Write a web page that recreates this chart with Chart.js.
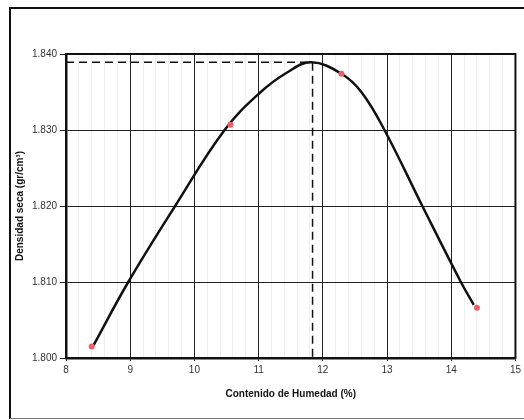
<!DOCTYPE html>
<html>
<head>
<meta charset="utf-8">
<script src="https://cdn.jsdelivr.net/npm/chart.js@4"></script>
<style>
html, body { margin: 0; padding: 0; background: #fff; }
#wrap { width: 524px; height: 420px; }
</style>
</head>
<body>
<div id="wrap"><canvas id="chart"></canvas></div>
<script>
// ensayo proctor: puntos medidos
const humedad = [8.40, 10.56, 12.29, 14.40];
const densidad = [1.8015, 1.8307, 1.8374, 1.8066];

// curva de compactacion
const curvaX = [8.43, 8.97, 9.70, 10.47, 11.02, 11.45, 11.82, 12.29, 12.60, 12.96, 13.55, 14.15, 14.35];
const curvaY = [1.8017, 1.8100, 1.8200, 1.8300, 1.8349, 1.8376, 1.8389, 1.8374, 1.8350, 1.8300, 1.8200, 1.8100, 1.8070];

// humedad optima y densidad maxima
const humedadOptima = 11.84;
const densidadMaxima = 1.8389;

const xMin = 8, xMax = 15;
const yMin = 1.800, yMax = 1.840;

const frame = {
    id: "frame",
    afterDraw(chart){
        const ctx = chart.ctx;
        const a = chart.chartArea;
        ctx.save();
        ctx.strokeStyle = "#111";
        ctx.lineWidth = 2;
        ctx.strokeRect(a.left, a.top, a.right - a.left, a.bottom - a.top);
        // marco exterior
        ctx.lineWidth = 2;
        ctx.beginPath();
        ctx.moveTo(524, 8);
        ctx.lineTo(10, 8);
        ctx.lineTo(10, 419);
        ctx.stroke();
        ctx.strokeStyle = "#777";
        ctx.lineWidth = 1;
        ctx.beginPath();
        ctx.moveTo(10, 418.5);
        ctx.lineTo(524, 418.5);
        ctx.stroke();
        ctx.restore();
    }
};

const ctx = document.getElementById("chart");
new Chart(ctx, {
    type: "scatter",
    data: {
        datasets: [
            {
                label: "Curva",
                data: curvaX.map((x, i) => ({x: x, y: curvaY[i]})),
                showLine: true,
                borderColor: "#111",
                borderWidth: 2.5,
                pointRadius: 0,
                tension: 0.4,
                order: 2
            },
            {
                label: "Optimo",
                data: [
                    {x: xMin, y: densidadMaxima},
                    {x: humedadOptima, y: densidadMaxima},
                    {x: humedadOptima, y: yMin}
                ],
                showLine: true,
                borderColor: "#111",
                borderWidth: 1.5,
                borderDash: [8, 5],
                pointRadius: 0,
                order: 3
            },
            {
                label: "Ensayo",
                data: humedad.map((x, i) => ({x: x, y: densidad[i]})),
                pointRadius: 3,
                pointBackgroundColor: "#ec5f6a",
                pointBorderWidth: 0,
                order: 1
            }
        ]
    },
    options: {
        responsive: true,
        maintainAspectRatio: false,
        animation: false,
        layout: {padding: {left: 10, top: 54, right: 8, bottom: 0}},
        plugins: {
            legend: {display: false},
            tooltip: {enabled: false}
        },
        scales: {
            x: {
                type: "linear",
                min: xMin,
                max: xMax,
                ticks: {
                    stepSize: 1,
                    padding: 3,
                    color: "#333",
                    font: {family: "Liberation Sans, Arial", size: 10}
                },
                grid: {color: "#222", lineWidth: 1, tickLength: 3},
                border: {color: "#111", width: 2.5},
                title: {
                    display: true,
                    text: "Contenido de Humedad (%)",
                    color: "#111",
                    font: {family: "Liberation Sans, Arial", size: 10, weight: "bold"},
                    padding: {top: 0, bottom: 20}
                },
                afterFit(scale){ scale.height = 62; }
            },
            xm: {
                type: "linear",
                position: "bottom",
                min: xMin,
                max: xMax,
                ticks: {display: false, stepSize: 0.2},
                grid: {
                    drawTicks: false,
                    color: c => Math.abs(c.tick.value - Math.round(c.tick.value)) < 1e-6 ? "rgba(0,0,0,0)" : "#f0f0f0"
                },
                border: {display: false},
                afterFit(scale){ scale.height = 0; }
            },
            y: {
                type: "linear",
                min: yMin,
                max: yMax,
                ticks: {
                    stepSize: 0.01,
                    padding: 3,
                    color: "#333",
                    font: {family: "Liberation Sans, Arial", size: 10},
                    callback: v => v.toFixed(3)
                },
                grid: {color: "#222", lineWidth: 1, tickLength: 6},
                border: {color: "#111", width: 2.5},
                title: {
                    display: true,
                    text: "Densidad seca (gr/cm³)",
                    color: "#111",
                    font: {family: "Liberation Sans, Arial", size: 10, weight: "bold"},
                    padding: {top: 4, bottom: 0}
                },
                afterFit(scale){ scale.width = 56; }
            }
        }
    },
    plugins: [frame]
});
</script>
</body>
</html>
